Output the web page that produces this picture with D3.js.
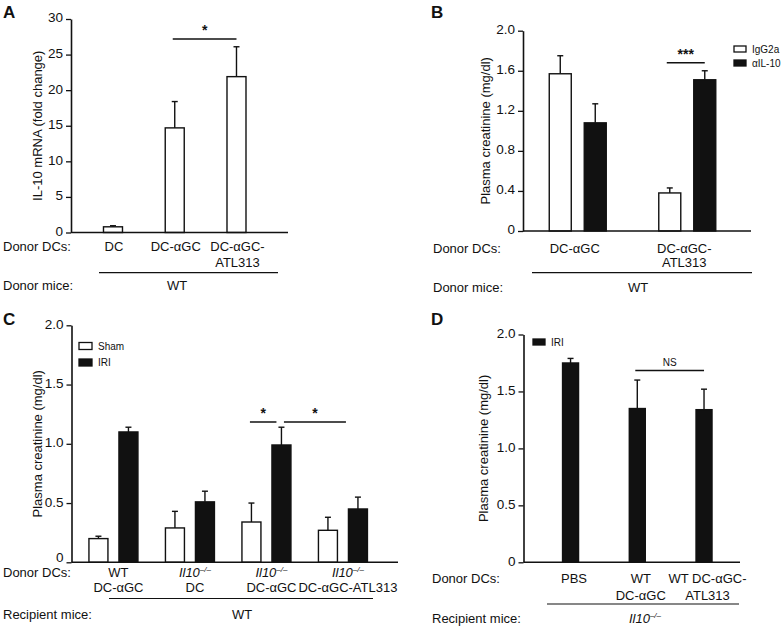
<!DOCTYPE html>
<html><head><meta charset="utf-8">
<script src="https://cdn.jsdelivr.net/npm/d3@7"></script>
<style>
body{margin:0;background:#fff}
svg{display:block}
text{font-family:"Liberation Sans",Arial,Helvetica,sans-serif;fill:#111}
</style></head><body>
<svg id="c" width="784" height="626"></svg>
<script>
// ---------- Panel A data ----------
const catsA = ["DC", "DC-αGC", "DC-αGC-ATL313"];
const labelsA = [["DC"], ["DC-αGC"], ["DC-αGC-", "ATL313"]];
const valsA = [0.8, 14.7, 21.9];
const errA = [0.15, 3.7, 4.2];
const ticksA = [0, 5, 10, 15, 20, 25, 30];
// ---------- Panel B data ----------
const catsB = ["DC-αGC", "DC-αGC-ATL313"];
const labelsB = [["DC-αGC"], ["DC-αGC-", "ATL313"]];
const seriesB = ["IgG2a", "αIL-10"];
const iggB = [1.57, 0.38];
const iggErrB = [0.18, 0.05];
const antiB = [1.08, 1.51];
const antiErrB = [0.19, 0.09];
const ticksB = [0, 0.4, 0.8, 1.2, 1.6, 2.0];
// ---------- Panel C data ----------
const catsC = ["WT DC-αGC", "Il10 DC", "Il10 DC-αGC", "Il10 DC-αGC-ATL313"];
const labelsC = [["WT", "DC-αGC"], ["Il10", "DC"], ["Il10", "DC-αGC"], ["Il10", "DC-αGC-ATL313"]];
const seriesC = ["Sham", "IRI"];
const shamC = [0.20, 0.29, 0.34, 0.27];
const shamErrC = [0.02, 0.14, 0.16, 0.11];
const iriC = [1.10, 0.51, 0.99, 0.45];
const iriErrC = [0.04, 0.09, 0.15, 0.10];
const ticksC = [0, 0.5, 1.0, 1.5, 2.0];
// ---------- Panel D data ----------
const catsD = ["PBS", "WT DC-αGC", "WT DC-αGC-ATL313"];
const labelsD = [["PBS"], ["WT", "DC-αGC"], ["WT DC-αGC-", "ATL313"]];
const iriD = [1.75, 1.35, 1.34];
const iriErrD = [0.04, 0.25, 0.18];
const ticksD = [0, 0.5, 1.0, 1.5, 2.0];

const svg = d3.select("#c");
const INK = "#111";

function fmtTick(d) { return d === 0 ? "0" : (Number.isInteger(d) && d > 2 ? String(d) : d.toFixed(1)); }

function yAxis(g, y, x0, ticks) {
  const ax = g.append("g").attr("transform", `translate(${x0},0)`)
    .call(d3.axisLeft(y).tickValues(ticks).tickFormat(fmtTick).tickSize(5).tickSizeOuter(0).tickPadding(3));
  ax.select(".domain").attr("stroke", INK).attr("stroke-width", 1.6);
  ax.selectAll(".tick line").attr("stroke", INK).attr("stroke-width", 1.3);
  ax.selectAll(".tick text").attr("font-size", 13.5).attr("dy", "0.22em").attr("fill", INK);
  ax.attr("font-family", null);
  return ax;
}
function yTitle(g, text, x, y) {
  const [a, b] = y.range();
  g.append("text").attr("transform", `translate(${x},${(a + b) / 2}) rotate(-90)`)
    .attr("text-anchor", "middle").attr("dy", "0.35em").attr("font-size", 13).text(text);
}
function xLine(g, xs, y) {
  const [r0, r1] = xs.range();
  g.append("line").attr("x1", r0).attr("x2", r1).attr("y1", y(0)).attr("y2", y(0))
    .attr("stroke", INK).attr("stroke-width", 1.6);
}
function bar(g, cx, w, v, e, y, filled) {
  g.append("line").attr("x1", cx).attr("x2", cx).attr("y1", y(v)).attr("y2", y(v + e))
    .attr("stroke", INK).attr("stroke-width", 1.4);
  g.append("line").attr("x1", cx - 3).attr("x2", cx + 3).attr("y1", y(v + e)).attr("y2", y(v + e))
    .attr("stroke", INK).attr("stroke-width", 1.4);
  g.append("rect").attr("x", cx - w / 2).attr("y", y(v)).attr("width", w).attr("height", y(0) - y(v))
    .attr("fill", filled ? INK : "#fff").attr("stroke", INK).attr("stroke-width", 1.4);
}
function catLabel(g, lines, x, y1, y2) {
  lines.forEach((ln, i) => {
    const t = g.append("text").attr("x", x).attr("y", i === 0 ? y1 : y2).attr("dy", "0.35em")
      .attr("text-anchor", "middle").attr("font-size", 13);
    writeRich(t, ln);
  });
}
function writeRich(t, ln) {
  if (ln.startsWith("Il10")) {
    t.append("tspan").attr("font-style", "italic").text("Il10");
    t.append("tspan").attr("font-size", 8).attr("dy", "-0.6em").attr("font-style", "italic").text("–/–");
    const rest = ln.slice(4);
    if (rest) t.append("tspan").attr("dy", "0.6em").text(rest);
  } else t.text(ln);
}
function rowText(g, txt, x, y) {
  const t = g.append("text").attr("x", x).attr("y", y).attr("dy", "0.35em").attr("font-size", 13);
  writeRich(t, txt);
  return t;
}
function groupLine(g, x1, x2, yy) {
  g.append("line").attr("x1", x1).attr("x2", x2).attr("y1", yy).attr("y2", yy)
    .attr("stroke", INK).attr("stroke-width", 1.2);
}
function sig(g, x1, x2, yv, y, label, size, bold) {
  g.append("line").attr("x1", x1).attr("x2", x2).attr("y1", y(yv)).attr("y2", y(yv))
    .attr("stroke", INK).attr("stroke-width", 1.5);
  g.append("text").attr("x", (x1 + x2) / 2).attr("y", y(yv) - 4).attr("text-anchor", "middle")
    .attr("font-size", size).attr("font-weight", bold ? "bold" : null).text(label);
}
function panelLetter(txt, x, y) {
  svg.append("text").attr("x", x).attr("y", y).attr("font-size", 17).attr("font-weight", 900)
    .attr("font-family", "'Liberation Sans', Arial, sans-serif").text(txt);
}
function legend(g, items, x, y0, dy, w, h, fs) {
  items.forEach((it, i) => {
    const yy = y0 + i * dy;
    g.append("rect").attr("x", x).attr("y", yy - h / 2).attr("width", w).attr("height", h)
      .attr("fill", it.filled ? INK : "#fff").attr("stroke", INK).attr("stroke-width", 1.3);
    g.append("text").attr("x", x + w + 6).attr("y", yy).attr("dy", "0.35em").attr("font-size", fs).text(it.name);
  });
}

// ================= Panel A =================
{
  const g = svg.append("g");
  const y = d3.scaleLinear().domain([0, 30]).range([232.5, 19]);
  const x = d3.scaleBand().domain(catsA).range([71, 288]).paddingOuter(0.257).align(0.35);
  const cx = c => x(c) + x.bandwidth() / 2;
  catsA.forEach((c, i) => bar(g, cx(c), 19, valsA[i], errA[i], y, false));
  xLine(g, x, y);
  yAxis(g, y, 71, ticksA);
  yTitle(g, "IL-10 mRNA (fold change)", 37, y);
  sig(g, cx(catsA[1]) - 2, cx(catsA[2]), 27.2, y, "*", 14, true);
  rowText(g, "Donor DCs:", 3, 246);
  catsA.forEach((c, i) => catLabel(g, labelsA[i], cx(c) + 1, 246, 262));
  groupLine(g, 99, 278, 272.7);
  rowText(g, "Donor mice:", 3, 285.5);
  g.append("text").attr("x", 177).attr("y", 285.5).attr("dy", "0.35em").attr("text-anchor", "middle").attr("font-size", 13).text("WT");
  panelLetter("A", 3, 18);
}

// ================= Panel B =================
{
  const g = svg.append("g");
  const y = d3.scaleLinear().domain([0, 2]).range([231, 30.7]);
  const x = d3.scaleBand().domain(catsB).range([523, 751]).paddingOuter(0.041).align(0);
  const xs = d3.scaleBand().domain(seriesB).range([-28.5, 28.5]).paddingInner(0.371);
  const cx = (c, s) => x(c) + x.bandwidth() / 2 + xs(s) + xs.bandwidth() / 2;
  catsB.forEach((c, i) => {
    bar(g, cx(c, seriesB[0]), xs.bandwidth(), iggB[i], iggErrB[i], y, false);
    bar(g, cx(c, seriesB[1]), xs.bandwidth(), antiB[i], antiErrB[i], y, true);
  });
  xLine(g, x, y);
  yAxis(g, y, 523, ticksB);
  yTitle(g, "Plasma creatinine (mg/dl)", 485, y);
  sig(g, cx(catsB[1], seriesB[0]) - 3, cx(catsB[1], seriesB[1]), 1.68, y, "***", 14, true);
  legend(g, [{ name: seriesB[0], filled: false }, { name: seriesB[1], filled: true }], 734, 49, 14, 12, 6, 10);
  rowText(g, "Donor DCs:", 433, 248);
  catsB.forEach((c, i) => catLabel(g, labelsB[i], x(c) + x.bandwidth() / 2 - 3, 248, 262.5));
  groupLine(g, 532, 752, 272.7);
  rowText(g, "Donor mice:", 433, 287);
  g.append("text").attr("x", 638).attr("y", 287).attr("dy", "0.35em").attr("text-anchor", "middle").attr("font-size", 13).text("WT");
  panelLetter("B", 431, 18);
}

// ================= Panel C =================
{
  const g = svg.append("g");
  const y = d3.scaleLinear().domain([0, 2]).range([562.3, 325.3]);
  const x = d3.scaleBand().domain(catsC).range([71.5, 398]).paddingOuter(0.134).align(0.18);
  const xs = d3.scaleBand().domain(seriesC).range([-24.5, 24.5]).paddingInner(0.367);
  const cx = (c, s) => x(c) + x.bandwidth() / 2 + xs(s) + xs.bandwidth() / 2;
  catsC.forEach((c, i) => {
    bar(g, cx(c, seriesC[0]), xs.bandwidth(), shamC[i], shamErrC[i], y, false);
    bar(g, cx(c, seriesC[1]), xs.bandwidth(), iriC[i], iriErrC[i], y, true);
  });
  xLine(g, x, y);
  const ax = yAxis(g, y, 71.5, ticksC);
  // the zero label sits just above the axis line in the reference
  ax.selectAll(".tick").filter(d => d === 0).select("text").attr("dy", "-0.05em");
  yTitle(g, "Plasma creatinine (mg/dl)", 37, y);
  sig(g, cx(catsC[2], seriesC[0]) - 1.5, cx(catsC[2], seriesC[1]) - 5, 1.184, y, "*", 14, true);
  sig(g, cx(catsC[2], seriesC[1]) + 2.5, cx(catsC[3], seriesC[0]) + 18, 1.184, y, "*", 14, true);
  legend(g, [{ name: seriesC[0], filled: false }, { name: seriesC[1], filled: true }], 79, 346, 16.5, 13, 7, 10);
  rowText(g, "Donor DCs:", 3, 572);
  catsC.forEach((c, i) => catLabel(g, labelsC[i], x(c) + x.bandwidth() / 2 + 5, 572, 587.5));
  groupLine(g, 109, 373, 598.5);
  rowText(g, "Recipient mice:", 3, 614.5);
  g.append("text").attr("x", 242).attr("y", 614.5).attr("dy", "0.35em").attr("text-anchor", "middle").attr("font-size", 13).text("WT");
  panelLetter("C", 3, 325);
}

// ================= Panel D =================
{
  const g = svg.append("g");
  const y = d3.scaleLinear().domain([0, 2]).range([562.3, 334.5]);
  const x = d3.scaleBand().domain(catsD).range([523.5, 740]).paddingOuter(0.122).align(0.84);
  const cx = c => x(c) + x.bandwidth() / 2;
  catsD.forEach((c, i) => bar(g, cx(c), 16, iriD[i], iriErrD[i], y, true));
  xLine(g, x, y);
  yAxis(g, y, 523.5, ticksD);
  yTitle(g, "Plasma creatinine (mg/dl)", 483, y);
  sig(g, cx(catsD[1]) - 2, cx(catsD[2]), 1.684, y, "NS", 10, false);
  legend(g, [{ name: "IRI", filled: true }], 533, 342, 0, 12, 6, 10);
  rowText(g, "Donor DCs:", 432, 578);
  catsD.forEach((c, i) => catLabel(g, labelsD[i], cx(c) + 3.5, 578, 595));
  groupLine(g, 547, 739, 604);
  rowText(g, "Recipient mice:", 432, 618);
  const t = g.append("text").attr("x", 645).attr("y", 618).attr("dy", "0.35em").attr("text-anchor", "middle").attr("font-size", 13);
  writeRich(t, "Il10");
  panelLetter("D", 431, 325);
}
</script>
</body></html>
